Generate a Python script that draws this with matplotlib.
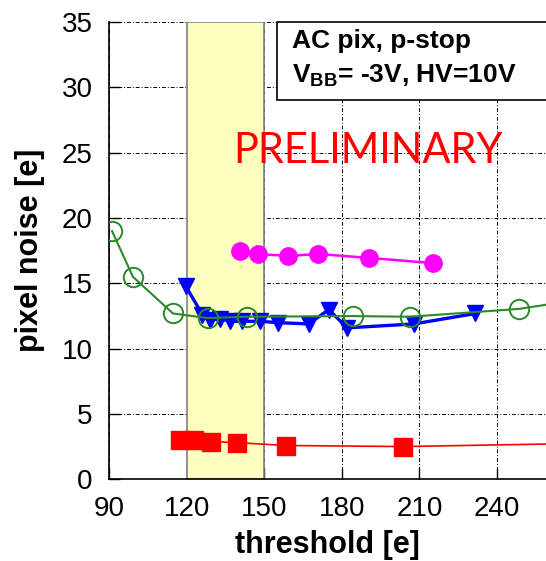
import matplotlib
matplotlib.use("Agg")
import matplotlib.pyplot as plt
from matplotlib.patches import Rectangle

plt.rcParams.update({
    "font.family": ["Liberation Sans", "DejaVu Sans"],
    "mathtext.fontset": "custom",
    "mathtext.rm": "Liberation Sans",
    "mathtext.bf": "Liberation Sans:bold",
})

# threshold [e] vs pixel noise [e]
green_x = [91.0, 99.1, 114.6, 128.1, 143.1, 184.3, 206.3, 248.5, 270.0]
green_y = [19.0, 15.5, 12.7, 12.35, 12.45, 12.5, 12.45, 13.05, 13.7]

blue_x = [119.5, 126.0, 128.9, 132.8, 136.7, 141.2, 148.3, 155.3,
          167.2, 174.9, 182.0, 207.8, 231.7]
blue_y = [14.8, 12.6, 12.2, 12.3, 12.1, 12.1, 12.1, 12.0,
          11.9, 13.0, 11.6, 11.9, 12.7]

magenta_x = [140.5, 147.6, 159.2, 170.8, 190.6, 215.4]
magenta_y = [17.45, 17.25, 17.1, 17.25, 16.95, 16.55]

red_x = [117.3, 122.7, 129.3, 139.4, 158.3, 203.6, 270.0]
red_y = [3.02, 3.02, 2.9, 2.82, 2.6, 2.52, 2.75]

band = (120, 150)
x_ticks = [90, 120, 150, 180, 210, 240]
y_ticks = [0, 5, 10, 15, 20, 25, 30, 35]

fig = plt.figure(figsize=(5.46, 5.61), dpi=100)
ax = fig.add_axes([0.2005, 0.1453, 0.7995, 0.8155])

ax.axvspan(*band, facecolor="#ffffc0", edgecolor="#808080", linewidth=1.2, zorder=1)

ax.plot(green_x, green_y, color="#2a8a2a", linewidth=1.5, marker="o", markersize=14,
        markerfacecolor="none", markeredgecolor="#2a8a2a", markeredgewidth=1.4, zorder=4)
ax.plot(blue_x, blue_y, color="#0000ff", linewidth=2.4, marker="v", markersize=11,
        zorder=3)
ax.plot(magenta_x, magenta_y, color="#ff00ff", linewidth=1.8, marker="o", markersize=12.5,
        zorder=3)
ax.plot(red_x, red_y, color="#ff0000", linewidth=1.2, marker="s", markersize=12.5,
        zorder=3)

ax.set_xticks(x_ticks)
ax.set_yticks(y_ticks)
ax.set_xlim(90, 259)
ax.set_ylim(0, 35)
ax.tick_params(direction="in", length=8, width=1.0, labelsize=20)
ax.tick_params(axis="x", pad=12)
ax.tick_params(axis="y", pad=12)
ax.set_axisbelow(True)
ax.grid(True, color="black", linewidth=0.7, linestyle=(0, (4, 2, 1, 2)))
for side in ("top", "right"):
    ax.spines[side].set_visible(False)
for side in ("left", "bottom"):
    ax.spines[side].set_linewidth(1.2)

ax.set_xlabel("threshold [e]", fontsize=22, fontweight="bold", labelpad=6)
ax.set_ylabel("pixel noise [e]", fontsize=22, fontweight="bold", labelpad=12)

ax.add_patch(Rectangle((0.3837, 0.8295), 0.7, 0.1705, transform=ax.transAxes,
                       facecolor="white", edgecolor="black", linewidth=1.2,
                       zorder=6, clip_on=False))
ax.text(0.418, 0.943, "AC pix, p-stop", transform=ax.transAxes, fontsize=19,
        fontweight="bold", zorder=7)
ax.text(0.418, 0.867, r"V$_{\mathbf{BB}}$= -3V, HV=10V", transform=ax.transAxes,
        fontsize=19, fontweight="bold", zorder=7)

ax.text(0.592, 0.717, "PRELIMINARY", transform=ax.transAxes, fontsize=30,
        color="#ff0000", family=["Lato", "DejaVu Sans"], ha="center", va="center",
        zorder=7)

fig.savefig("out.png", dpi=100)
